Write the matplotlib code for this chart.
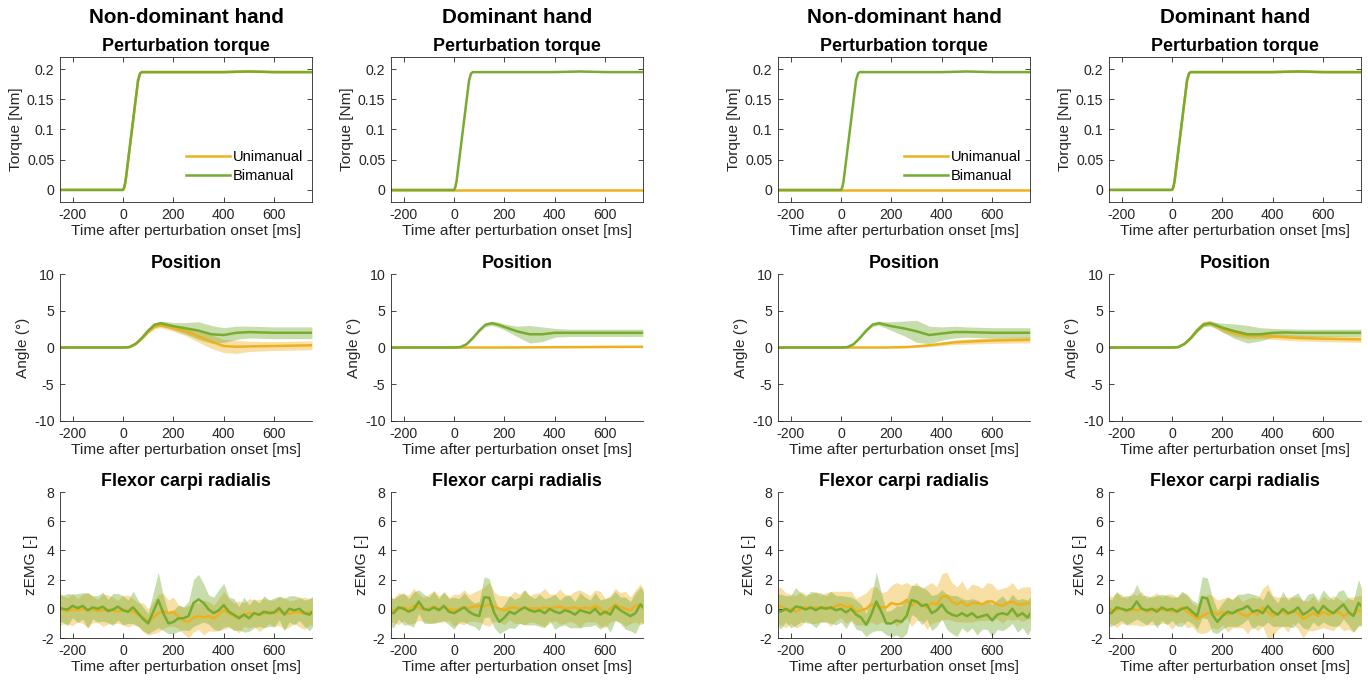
import matplotlib

matplotlib.use("Agg")
import matplotlib.pyplot as plt
import numpy as np

UNI = "#EDB120"   # unimanual
BI = "#77AC30"    # bimanual
INK = "#262626"

COLUMN_TITLES = ["Non-dominant hand", "Dominant hand", "Non-dominant hand", "Dominant hand"]
ROW_TITLES = ["Perturbation torque", "Position", "Flexor carpi radialis"]
ROW_YLABELS = ["Torque [Nm]", "Angle (°)", "zEMG [-]"]
XLABEL = "Time after perturbation onset [ms]"

# --- perturbation torque -----------------------------------------------------
TORQUE_T = [-250, -100, 0, 5, 10, 60, 68, 75, 200, 400, 500, 600, 750]
TORQUE_ON = [0, 0, 0, 0.004, 0.014, 0.182, 0.193, 0.195, 0.195, 0.195, 0.196, 0.195, 0.195]
TORQUE_OFF = [0, 0, 0, 0, 0, 0, 0, 0, 0, 0, 0, 0, 0]

# --- wrist angle, mean and sd ------------------------------------------------
POS_T = [-250, 0, 25, 50, 75, 100, 125, 150, 175, 200, 250, 300, 350, 400, 450, 500, 600, 750]

POS_A_BI = [0, 0, 0.05, 0.5, 1.3, 2.3, 3.1, 3.3, 3.1, 2.9, 2.6, 2.3, 1.8, 1.7, 2.0, 2.1, 2.0, 2.0]
POS_A_BI_SD = [0.02, 0.02, 0.05, 0.1, 0.15, 0.2, 0.25, 0.3, 0.4, 0.5, 0.8, 1.2, 1.2, 1.0, 0.9, 0.8, 0.8, 0.8]
POS_A_UNI = [0, 0, 0.05, 0.45, 1.2, 2.1, 2.8, 3.0, 2.8, 2.6, 2.2, 1.5, 0.8, 0.2, 0.1, 0.15, 0.2, 0.3]
POS_A_UNI_SD = [0.02, 0.02, 0.05, 0.1, 0.15, 0.2, 0.25, 0.3, 0.35, 0.4, 0.6, 0.8, 0.9, 0.9, 0.9, 0.7, 0.6, 0.6]

POS_B_BI = [0, 0, 0.05, 0.45, 1.3, 2.3, 3.1, 3.3, 3.1, 2.8, 2.2, 1.8, 1.8, 2.0, 2.0, 2.0, 2.0, 2.0]
POS_B_BI_SD = [0.02, 0.02, 0.05, 0.1, 0.15, 0.2, 0.25, 0.3, 0.35, 0.4, 0.7, 1.2, 1.0, 0.6, 0.5, 0.5, 0.5, 0.5]
POS_B_UNI = [0, 0, 0, 0, 0, 0, 0, 0, 0, 0, 0.01, 0.02, 0.03, 0.05, 0.05, 0.06, 0.08, 0.1]
POS_B_UNI_SD = [0.02, 0.02, 0.02, 0.02, 0.02, 0.02, 0.03, 0.03, 0.03, 0.04, 0.05, 0.06, 0.07, 0.08, 0.08, 0.09, 0.1, 0.1]

POS_C_BI = [0, 0, 0.05, 0.45, 1.3, 2.3, 3.1, 3.3, 3.1, 2.9, 2.6, 2.2, 1.7, 1.9, 2.1, 2.1, 2.0, 2.0]
POS_C_BI_SD = [0.02, 0.02, 0.05, 0.1, 0.15, 0.2, 0.25, 0.3, 0.4, 0.6, 1.0, 1.5, 1.2, 0.9, 0.8, 0.7, 0.7, 0.7]
POS_C_UNI = [0, 0, 0, 0, 0, 0, 0, 0, 0, 0.02, 0.05, 0.15, 0.3, 0.5, 0.7, 0.8, 0.95, 1.05]
POS_C_UNI_SD = [0.02, 0.02, 0.02, 0.02, 0.02, 0.02, 0.03, 0.03, 0.04, 0.05, 0.08, 0.12, 0.18, 0.25, 0.3, 0.35, 0.4, 0.4]

POS_D_BI = [0, 0, 0.05, 0.5, 1.3, 2.3, 3.1, 3.3, 3.0, 2.7, 2.2, 1.8, 1.8, 2.0, 2.05, 2.0, 2.0, 2.0]
POS_D_BI_SD = [0.02, 0.02, 0.05, 0.1, 0.15, 0.2, 0.25, 0.3, 0.4, 0.6, 1.0, 1.2, 0.9, 0.6, 0.5, 0.5, 0.5, 0.5]
POS_D_UNI = [0, 0, 0.05, 0.5, 1.3, 2.4, 3.2, 3.3, 3.0, 2.5, 1.9, 1.6, 1.6, 1.5, 1.4, 1.3, 1.2, 1.1]
POS_D_UNI_SD = [0.02, 0.02, 0.05, 0.1, 0.2, 0.3, 0.35, 0.4, 0.4, 0.4, 0.4, 0.4, 0.4, 0.4, 0.4, 0.4, 0.4, 0.4]

# --- FCR zEMG, mean and sd, 20 ms bins from -260 to 760 ms ---------------------
EMG_T = np.arange(-260, 761, 20)

EMG_A_BI = [0.15, 0.0, -0.05, 0.2, 0.05, 0.2, -0.1, 0.1, 0.0, 0.15, -0.15, -0.05, 0.15,
            -0.1, -0.2, 0.1, -0.3, -0.7, -1.0, -0.2, 0.6, -0.3, -1.0, -0.9, -0.65, -0.65,
            -0.5, 0.4, 0.65, 0.4, -0.05, -0.3, -0.1, 0.25, -0.2, -0.4, -0.65, -0.4, -0.65,
            -0.3, -0.4, -0.2, -0.3, -0.25, 0.05, -0.4, 0.0, -0.1, 0.0, -0.3, -0.4, -0.05]
EMG_A_BI_SD = [1.0, 0.9, 1.1, 0.8, 1.0, 0.9, 1.2, 0.8, 0.9, 1.0, 0.8, 1.1, 0.9,
               1.0, 0.8, 1.1, 0.9, 0.8, 0.7, 1.3, 1.9, 1.2, 0.7, 0.8, 0.9, 0.8,
               1.0, 1.6, 1.7, 1.3, 1.0, 1.1, 1.4, 1.5, 1.0, 1.1, 0.8, 1.2, 0.9,
               1.0, 0.8, 1.1, 0.9, 1.0, 0.8, 1.1, 0.9, 1.0, 0.8, 0.9, 1.1, 1.0]
EMG_A_UNI = [-0.1, -0.05, -0.15, -0.05, -0.1, 0.0, -0.1, -0.05, -0.15, -0.1, -0.05, -0.1, -0.2,
             -0.1, -0.15, -0.2, -0.4, -0.6, -0.9, -0.6, -0.3, -0.15, -0.3, -0.2, -0.55, -0.8,
             -0.9, -0.6, -0.5, -0.6, -0.5, -0.65, -0.4, -0.1, -0.3, -0.5, -0.55, -0.4, -0.3,
             -0.3, -0.45, -0.3, -0.2, -0.3, -0.15, -0.3, -0.35, -0.2, -0.25, -0.3, -0.2, -0.2]
EMG_A_UNI_SD = [1.2, 1.0, 0.9, 1.1, 0.8, 1.0, 1.2, 0.9, 0.8, 1.1, 1.0, 0.9, 0.8,
                1.0, 1.1, 0.9, 0.8, 1.0, 0.9, 1.1, 1.3, 1.2, 0.9, 1.0, 0.8, 0.9,
                1.1, 1.0, 0.9, 1.2, 1.0, 0.9, 1.1, 1.3, 1.0, 0.9, 1.1, 0.8, 1.0,
                0.9, 1.1, 1.0, 0.8, 0.9, 1.0, 1.1, 0.9, 0.8, 1.0, 1.1, 0.9, 1.0]

EMG_B_BI = [-0.2, -0.3, 0.1, 0.0, -0.2, -0.05, 0.5, 0.0, -0.1, 0.1, -0.1, 0.2, -0.2,
            -0.3, -0.1, 0.1, -0.2, -0.4, -0.5, 0.8, 0.75, -0.3, -0.9, -0.6, -0.2, -0.35,
            -0.1, 0.1, -0.1, -0.2, -0.1, -0.3, 0.0, -0.2, -0.3, -0.1, -0.2, -0.4, -0.1,
            -0.2, -0.3, 0.0, -0.4, -0.2, -0.4, 0.2, -0.1, -0.3, -0.5, -0.3, 0.3, -0.1]
EMG_B_BI_SD = [0.9, 1.0, 0.8, 1.1, 0.9, 1.2, 0.8, 1.0, 0.9, 1.1, 0.8, 1.0, 0.9,
               1.1, 0.8, 1.0, 0.9, 0.8, 1.0, 1.4, 1.3, 1.0, 0.8, 0.9, 1.1, 1.0,
               0.9, 1.2, 1.0, 0.9, 1.1, 1.0, 0.8, 1.2, 0.9, 1.0, 1.1, 0.9, 1.2,
               1.0, 0.9, 1.1, 1.0, 0.9, 1.2, 1.0, 0.9, 1.1, 1.0, 1.4, 1.2, 1.0]
EMG_B_UNI = [0.0, -0.1, 0.0, 0.1, -0.05, 0.2, 0.1, -0.05, 0.0, 0.15, 0.0, 0.1, 0.0,
             -0.1, 0.0, 0.1, 0.05, 0.15, 0.2, 0.2, 0.3, 0.15, 0.0, -0.1, 0.05, 0.1,
             0.0, 0.1, 0.0, 0.05, 0.0, 0.1, 0.0, 0.1, 0.15, 0.0, 0.05, 0.1, 0.0,
             0.1, 0.0, 0.2, 0.0, -0.3, 0.0, 0.3, 0.1, 0.0, -0.1, 0.2, 0.3, 0.1]
EMG_B_UNI_SD = [1.0, 0.8, 1.1, 0.9, 1.0, 1.2, 0.9, 0.8, 1.0, 1.1, 0.9, 1.0, 0.8,
                1.1, 1.0, 1.2, 0.9, 1.0, 1.1, 1.3, 1.5, 1.0, 0.9, 1.0, 0.8, 1.1,
                1.0, 1.2, 0.9, 1.0, 1.1, 1.3, 1.0, 0.9, 1.2, 1.0, 0.9, 1.1, 1.3,
                1.0, 0.9, 1.1, 1.2, 1.0, 0.9, 1.1, 1.0, 1.2, 0.9, 1.1, 1.4, 1.0]

EMG_C_BI = [0.0, -0.2, 0.0, -0.2, 0.15, 0.1, -0.05, 0.1, -0.1, 0.1, 0.0, 0.1, -0.1,
            0.0, -0.25, 0.0, -0.4, -0.6, -1.1, -0.4, 0.5, -0.2, -1.0, -1.0, -0.8, -0.9,
            -0.5, 0.6, 0.5, 0.2, 0.3, -0.3, -0.1, 0.3, -0.2, -0.4, -0.5, -0.3, -0.5,
            -0.3, -0.6, -0.5, -0.4, -0.8, -0.4, -0.3, -0.4, 0.0, -0.5, -0.3, -0.6, -0.1]
EMG_C_BI_SD = [1.0, 1.2, 0.9, 1.1, 1.3, 1.0, 0.9, 1.1, 1.2, 1.0, 0.9, 1.1, 1.0,
               0.9, 1.1, 0.8, 1.0, 0.9, 0.8, 1.2, 2.0, 1.3, 0.8, 0.9, 1.0, 1.1,
               1.2, 1.0, 1.1, 1.3, 1.0, 1.2, 1.1, 1.0, 1.2, 1.3, 1.4, 1.0, 1.1,
               1.0, 1.2, 0.9, 1.0, 1.1, 1.0, 1.2, 0.9, 1.0, 1.1, 1.0, 1.2, 1.1]
EMG_C_UNI = [0.2, 0.2, -0.1, 0.0, -0.2, 0.0, 0.1, 0.0, 0.1, 0.0, 0.1, 0.0, 0.2,
             0.3, 0.1, 0.2, -0.2, -0.1, 0.0, 0.3, 0.2, 0.1, 0.1, 0.4, 0.3, 0.35,
             0.6, 0.2, 0.5, 0.3, 0.1, 0.4, 0.3, 0.8, 0.9, 0.5, 0.3, 0.5, 0.2,
             0.4, 0.4, 0.3, 0.5, 0.5, 0.3, 0.2, 0.4, 0.5, 0.3, 0.3, 0.4, 0.4]
EMG_C_UNI_SD = [1.1, 1.3, 1.2, 1.0, 1.1, 1.2, 0.9, 1.0, 1.1, 0.9, 1.0, 1.2, 1.0,
                0.9, 1.1, 1.0, 0.9, 1.0, 1.1, 1.2, 1.3, 1.0, 1.1, 1.2, 1.5, 1.3,
                1.2, 1.4, 1.3, 1.1, 1.5, 1.4, 1.2, 1.6, 1.6, 1.3, 1.2, 1.4, 1.1,
                1.3, 1.2, 1.1, 1.3, 1.2, 1.0, 1.2, 1.1, 1.3, 1.0, 1.2, 1.1, 1.1]

EMG_D_BI = [-0.2, -0.3, 0.1, 0.0, -0.1, 0.0, 0.5, 0.0, -0.1, 0.0, -0.2, 0.1, -0.1,
            0.0, -0.2, 0.0, 0.1, -0.2, -0.5, 0.8, 0.7, -0.4, -0.9, -0.5, -0.2, -0.3,
            -0.1, 0.0, 0.2, -0.2, -0.1, -0.3, 0.2, -0.2, -0.4, 0.0, -0.3, -0.2, 0.1,
            -0.4, -0.2, 0.1, -0.3, 0.2, -0.1, -0.3, 0.0, 0.3, -0.2, -0.5, 0.4, 0.0]
EMG_D_BI_SD = [1.0, 0.9, 1.1, 0.8, 1.0, 0.9, 1.2, 0.9, 1.0, 0.8, 1.1, 0.9, 1.0,
               0.8, 1.0, 1.2, 0.9, 0.8, 0.9, 1.4, 1.4, 1.2, 0.8, 0.9, 1.0, 0.9,
               1.1, 1.0, 0.9, 1.2, 1.0, 0.9, 1.1, 1.0, 0.8, 1.2, 0.9, 1.1, 1.0,
               0.9, 1.2, 1.0, 0.9, 1.1, 1.0, 0.9, 1.2, 1.0, 0.9, 1.1, 1.6, 1.0]
EMG_D_UNI = [0.1, -0.1, -0.1, 0.0, -0.2, 0.0, -0.1, 0.0, -0.2, -0.1, 0.0, -0.1, 0.0,
             -0.2, -0.1, 0.1, -0.2, -0.4, -0.7, -0.5, -0.3, -0.2, -0.4, -0.2, -0.4, -0.3,
             -0.2, -0.4, -0.5, -0.2, -0.4, 0.1, -0.2, -0.5, -0.3, -0.2, -0.4, -0.1, -0.3,
             -0.7, -0.5, -0.3, -0.5, -0.2, -0.4, -0.3, -0.2, -0.5, -0.3, -0.4, -0.1, -0.2]
EMG_D_UNI_SD = [1.1, 0.9, 1.2, 1.0, 0.9, 1.1, 1.0, 1.2, 0.9, 1.0, 1.1, 0.9, 1.0,
                1.2, 0.9, 1.0, 1.1, 0.8, 0.9, 1.2, 1.3, 1.1, 1.0, 0.9, 1.2, 1.0,
                1.1, 0.9, 1.2, 1.0, 1.1, 1.3, 1.9, 1.4, 1.1, 1.0, 1.2, 0.9, 1.1,
                1.3, 1.0, 1.2, 0.9, 1.1, 1.0, 1.2, 0.9, 1.0, 1.1, 1.2, 1.0, 1.1]

# per column: (unimanual torque, bimanual torque)
TORQUE = [(TORQUE_ON, TORQUE_ON), (TORQUE_OFF, TORQUE_ON),
          (TORQUE_OFF, TORQUE_ON), (TORQUE_ON, TORQUE_ON)]
POSITION = [(POS_A_UNI, POS_A_UNI_SD, POS_A_BI, POS_A_BI_SD),
            (POS_B_UNI, POS_B_UNI_SD, POS_B_BI, POS_B_BI_SD),
            (POS_C_UNI, POS_C_UNI_SD, POS_C_BI, POS_C_BI_SD),
            (POS_D_UNI, POS_D_UNI_SD, POS_D_BI, POS_D_BI_SD)]
EMG = [(EMG_A_UNI, EMG_A_UNI_SD, EMG_A_BI, EMG_A_BI_SD),
       (EMG_B_UNI, EMG_B_UNI_SD, EMG_B_BI, EMG_B_BI_SD),
       (EMG_C_UNI, EMG_C_UNI_SD, EMG_C_BI, EMG_C_BI_SD),
       (EMG_D_UNI, EMG_D_UNI_SD, EMG_D_BI, EMG_D_BI_SD)]
LEGEND_COLS = (0, 2)

plt.rcParams.update({
    "font.family": ["Liberation Sans", "DejaVu Sans"],
    "font.size": 10,
    "axes.unicode_minus": False,
    "axes.edgecolor": INK,
    "axes.linewidth": 0.6,
    "axes.labelcolor": INK,
    "axes.labelsize": 11.1,
    "xtick.color": INK,
    "ytick.color": INK,
    "xtick.labelsize": 10.2,
    "ytick.labelsize": 10.2,
    "xtick.direction": "in",
    "ytick.direction": "in",
    "xtick.major.size": 3.5,
    "ytick.major.size": 3.5,
    "xtick.major.width": 0.6,
    "ytick.major.width": 0.6,
    "xtick.major.pad": 4.5,
    "ytick.major.pad": 4,
})

W, H = 1368, 684
fig = plt.figure(figsize=(W / 100, H / 100), dpi=100)

COL_LEFT = [60, 391, 778, 1109]
AX_W = 252
ROW_BOX = [(57, 202), (274, 421), (492, 638)]  # top, bottom in pixels


def shaded(ax, t, mean, sd, color):
    mean = np.asarray(mean, float)
    sd = np.asarray(sd, float)
    ax.fill_between(t, mean - sd, mean + sd, color=color, alpha=0.4, lw=0)


axes = []
for r, (top, bot) in enumerate(ROW_BOX):
    row = []
    for c, left in enumerate(COL_LEFT):
        ax = fig.add_axes([left / W, (H - bot) / H, AX_W / W, (bot - top) / H])
        row.append(ax)
    axes.append(row)

for c in range(4):
    # torque
    ax = axes[0][c]
    uni, bi = TORQUE[c]
    ax.plot(TORQUE_T, uni, color=UNI, lw=1.8, label="Unimanual")
    ax.plot(TORQUE_T, bi, color=BI, lw=1.8, label="Bimanual")
    ax.set_ylim(-0.02, 0.22)
    ax.set_yticks([0, 0.05, 0.1, 0.15, 0.2])
    ax.set_yticklabels(["0", "0.05", "0.1", "0.15", "0.2"])
    ax.tick_params(top=True, right=True)
    if c in LEGEND_COLS:
        ax.legend(loc="lower right", bbox_to_anchor=(1.0, 0.07), frameon=False,
                  fontsize=10.5, handlelength=3.0, handletextpad=0.2,
                  labelspacing=0.35, borderaxespad=0.2)
    ax.text(0.5, 1.205, COLUMN_TITLES[c], transform=ax.transAxes, ha="center",
            va="bottom", fontsize=14.9, fontweight="bold", color="black")

    # position
    ax = axes[1][c]
    uni, uni_sd, bi, bi_sd = POSITION[c]
    shaded(ax, POS_T, uni, uni_sd, UNI)
    shaded(ax, POS_T, bi, bi_sd, BI)
    ax.plot(POS_T, uni, color=UNI, lw=1.8)
    ax.plot(POS_T, bi, color=BI, lw=1.8)
    ax.set_ylim(-10, 10)
    ax.set_yticks([-10, -5, 0, 5, 10])

    # EMG
    ax = axes[2][c]
    uni, uni_sd, bi, bi_sd = EMG[c]
    shaded(ax, EMG_T, uni, uni_sd, UNI)
    shaded(ax, EMG_T, bi, bi_sd, BI)
    ax.plot(EMG_T, uni, color=UNI, lw=1.8)
    ax.plot(EMG_T, bi, color=BI, lw=1.8)
    ax.set_ylim(-2, 8)
    ax.set_yticks([-2, 0, 2, 4, 6, 8])

for r in range(3):
    for c in range(4):
        ax = axes[r][c]
        ax.set_xlim(-250, 750)
        ax.set_xticks([-200, 0, 200, 400, 600])
        ax.set_xlabel(XLABEL, labelpad=1.5)
        ax.set_ylabel(ROW_YLABELS[r], labelpad=3)
        ax.set_title(ROW_TITLES[r], fontsize=12.9, fontweight="bold", pad=4.5)
        if r > 0:
            ax.spines["top"].set_visible(False)
            ax.spines["right"].set_visible(False)

fig.savefig("out.png", dpi=100)
